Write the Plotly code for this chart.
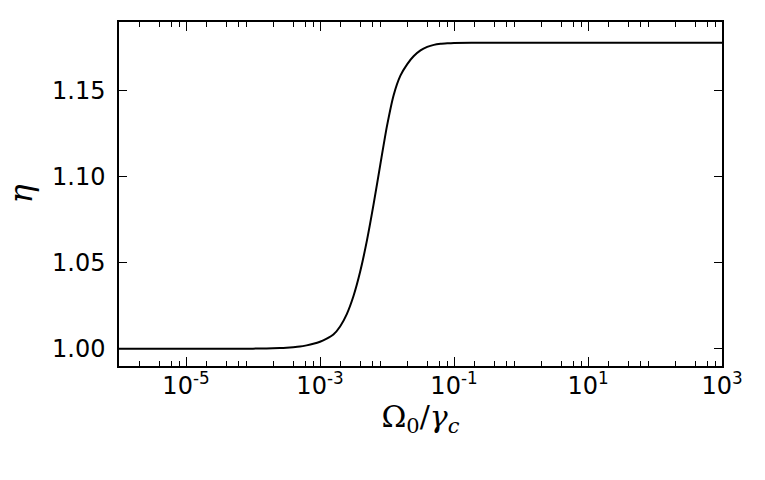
import plotly.graph_objects as go

# log10 of Omega_0/gamma_c and eta values
log_x = [-6.0, -5.0, -4.5, -4.0, -3.8, -3.6, -3.5, -3.4, -3.3, -3.2, -3.1, -3.0, -2.9,
         -2.8, -2.7, -2.6, -2.5, -2.4, -2.3, -2.2, -2.1, -2.0, -1.9, -1.8, -1.7,
         -1.6, -1.5, -1.4, -1.3, -1.2, -1.1, -1.0, -0.5, 0.0, 1.0, 2.0, 3.0]
eta = [1.0000, 1.0000, 1.0000, 1.0001, 1.0002, 1.0004, 1.0006, 1.0009, 1.0013, 1.0020,
       1.0029, 1.0041, 1.0059, 1.0083, 1.0130, 1.0202, 1.0307, 1.0449, 1.0629, 1.0841,
       1.1071, 1.1296, 1.1476, 1.1588, 1.1654, 1.1702, 1.1735, 1.1755, 1.1767, 1.1773,
       1.1776, 1.1778, 1.1780, 1.1780, 1.1780, 1.1780, 1.1780]
x_vals = [10 ** v for v in log_x]

labelled_exps = [-5, -3, -1, 1, 3]
major_vals = [10.0 ** e for e in labelled_exps]
major_text = [f"10<sup>{e}</sup>" for e in labelled_exps]
minor_vals = [m * 10.0 ** e for e in range(-6, 3) for m in (2, 4, 6, 8)]

y_ticks = [1.00, 1.05, 1.10, 1.15]
y_text = ["1.00", "1.05", "1.10", "1.15"]

fig = go.Figure()
fig.add_trace(go.Scatter(x=x_vals, y=eta, mode="lines", xaxis="x", yaxis="y",
                         line=dict(color="black", width=2, shape="spline", smoothing=0.6),
                         showlegend=False, hoverinfo="skip"))
fig.add_trace(go.Scatter(x=x_vals, y=eta, mode="lines", xaxis="x2", yaxis="y",
                         line=dict(color="rgba(0,0,0,0)", width=0),
                         showlegend=False, hoverinfo="skip"))

common_x = dict(type="log", range=[-6, 3], showgrid=False, zeroline=False,
                tickcolor="black", tickwidth=1.2, ticks="inside", mirror="ticks")

fig.update_layout(
    width=765, height=480,
    margin=dict(l=119, r=43, t=22, b=114),
    paper_bgcolor="white", plot_bgcolor="white",
    font=dict(family="DejaVu Sans", size=24, color="black"),
    xaxis=dict(**common_x,
               tickmode="array", tickvals=minor_vals, ticktext=["" for _ in minor_vals],
               ticklen=5, showline=True, linecolor="black", linewidth=1.5,
               title=dict(text="Ω<sub>0</sub>/<i>γ</i><sub><i>c</i></sub>",
                          font=dict(family="DejaVu Serif", size=30), standoff=34)),
    xaxis2=dict(**common_x, overlaying="x", side="bottom", anchor="y",
                tickmode="array", tickvals=major_vals, ticktext=major_text,
                ticklen=9, showline=False,
                tickfont=dict(family="DejaVu Sans", size=24),
                ticklabelstandoff=3),
    yaxis=dict(range=[0.99, 1.19],
               tickmode="array", tickvals=y_ticks, ticktext=y_text,
               ticks="inside", ticklen=8, tickwidth=1.2, tickcolor="black",
               showline=True, linecolor="black", linewidth=1.5, mirror="ticks",
               showgrid=False, zeroline=False,
               tickfont=dict(family="DejaVu Sans", size=24),
               ticklabelstandoff=7,
               title=dict(text="<i>η</i>", font=dict(family="DejaVu Serif", size=32),
                          standoff=10)),
)

fig.write_html("out.html")
